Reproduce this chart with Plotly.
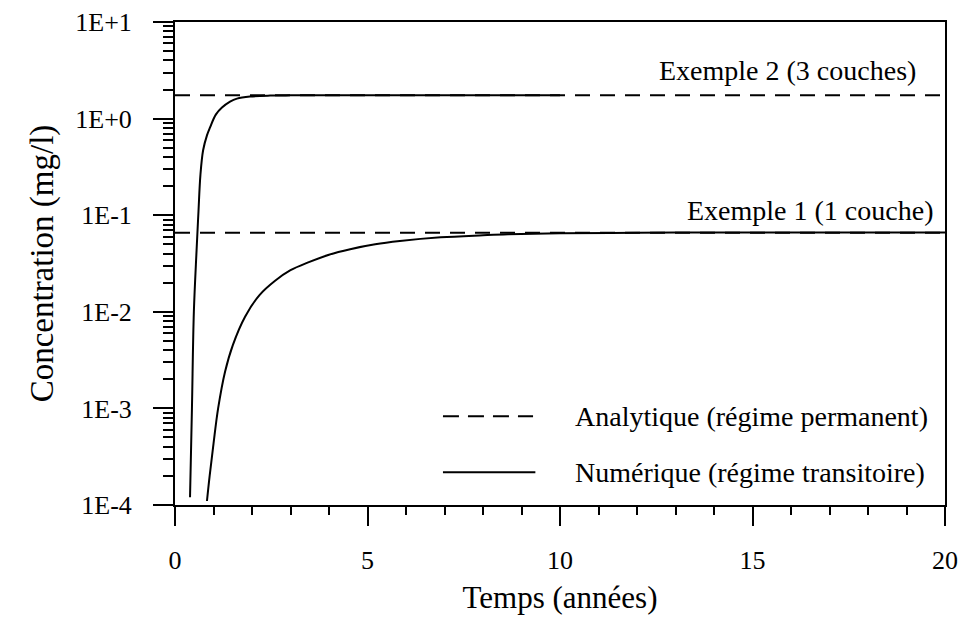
import plotly.graph_objects as go
import numpy as np

# Example 1 (1 couche) - numerical transient
t_ex1 = [0.83, 0.9, 1.0, 1.12, 1.3, 1.5, 1.82, 2.2, 2.6, 3.0, 3.46, 4.0, 4.55,
         5.2, 5.84, 6.9, 8.0, 8.65, 10.0, 12.0, 14.0, 16.0, 18.0, 20.0]
c_ex1 = [1.1e-4, 2.0e-4, 4.3e-4, 1.0e-3, 2.4e-3, 4.5e-3, 8.9e-3, 1.5e-2, 2.1e-2,
         2.7e-2, 3.25e-2, 3.9e-2, 4.45e-2, 5.0e-2, 5.4e-2, 5.9e-2, 6.2e-2, 6.35e-2,
         6.5e-2, 6.58e-2, 6.62e-2, 6.63e-2, 6.64e-2, 6.64e-2]

# Example 2 (3 couches) - numerical transient
t_ex2 = [0.39, 0.44, 0.49, 0.56, 0.61, 0.66, 0.73, 0.83, 0.91, 1.06, 1.22, 1.43, 1.61,
         1.95, 2.47, 3.0, 5.0, 10.0]
c_ex2 = [1.2e-4, 1.0e-3, 1.0e-2, 4.3e-2, 0.11, 0.26, 0.47, 0.67, 0.81, 1.10, 1.30, 1.50,
         1.61, 1.69, 1.73, 1.74, 1.74, 1.74]

# Analytical steady-state values
t_range = [0, 20]
c_ss_ex1 = 0.066
c_ss_ex2 = 1.74

y_tickvals = [1e-4, 1e-3, 1e-2, 1e-1, 1e0, 1e1]
y_ticktext = ["1E-4", "1E-3", "1E-2", "1E-1", "1E+0", "1E+1"]
x_tickvals = [0, 5, 10, 15, 20]

labels = ["Exemple 2 (3 couches)", "Exemple 1 (1 couche)"]
legend_text = ["Analytique (régime permanent)", "Numérique (régime transitoire)"]

FONT = "Liberation Serif, Times New Roman, serif"
DASH = "15px,10px"

fig = go.Figure()
for c in [c_ss_ex2, c_ss_ex1]:
    fig.add_trace(go.Scatter(x=t_range, y=[c, c], mode="lines",
                             line=dict(color="black", width=2, dash=DASH),
                             showlegend=False, hoverinfo="skip"))
fig.add_trace(go.Scatter(x=t_ex2, y=c_ex2, mode="lines",
                         line=dict(color="black", width=2, shape="spline"), showlegend=False))
fig.add_trace(go.Scatter(x=t_ex1, y=c_ex1, mode="lines",
                         line=dict(color="black", width=2, shape="spline"), showlegend=False))

minor_y = [m * 10.0 ** e for e in range(-4, 1) for m in range(2, 10)]

fig.update_layout(
    width=964, height=630,
    margin=dict(l=175, r=19, t=22, b=125),
    paper_bgcolor="white", plot_bgcolor="white",
    font=dict(family=FONT, size=26, color="black"),
    xaxis=dict(range=[0, 20], tickmode="array", tickvals=x_tickvals, automargin=False,
               ticks="outside", ticklen=19, tickwidth=1.5, tickcolor="black",
               showline=True, linecolor="black", linewidth=2, mirror=True,
               showgrid=False, zeroline=False,
               minor=dict(tickmode="linear", tick0=0, dtick=1, ticks="outside",
                          ticklen=8, tickwidth=1.5, tickcolor="black", showgrid=False),
               ticklabelstandoff=12, tickfont=dict(size=26),
               title=dict(text="Temps (années)", font=dict(size=31), standoff=12)),
    yaxis=dict(type="log", range=[-4, 1], tickmode="array", tickvals=y_tickvals,
               ticktext=y_ticktext, automargin=False,
               ticks="outside", ticklen=20, tickwidth=1.5, tickcolor="black",
               showline=True, linecolor="black", linewidth=2, mirror=True,
               showgrid=False, zeroline=False,
               minor=dict(tickmode="array", tickvals=minor_y, ticks="outside",
                          ticklen=10, tickwidth=1.5, tickcolor="black", showgrid=False),
               ticklabelstandoff=16, tickfont=dict(size=26),
               title=dict(text="Concentration (mg/l)", font=dict(size=33), standoff=12)),
    showlegend=False,
)

# Labels for the curves
fig.add_annotation(x=19.3, y=np.log10(c_ss_ex2), text=labels[0], showarrow=False,
                   xanchor="right", yanchor="bottom", yshift=7, font=dict(size=28))
fig.add_annotation(x=19.74, y=np.log10(c_ss_ex1), text=labels[1], showarrow=False,
                   xanchor="right", yanchor="bottom", yshift=5, font=dict(size=28))

# Legend (drawn manually to reproduce long sample lines)
leg_y = [0.184, 0.068]
leg_dash = ["16px,9px", "solid"]
for yy, d, txt in zip(leg_y, leg_dash, legend_text):
    fig.add_shape(type="line", xref="paper", yref="paper", x0=0.348, x1=0.468 if d == "solid" else 0.465,
                  y0=yy, y1=yy, line=dict(color="black", width=2, dash=d))
    fig.add_annotation(xref="paper", yref="paper", x=0.517, y=yy, text=txt, showarrow=False,
                       xanchor="left", yanchor="middle", font=dict(size=28))

fig.write_html("out.html")
